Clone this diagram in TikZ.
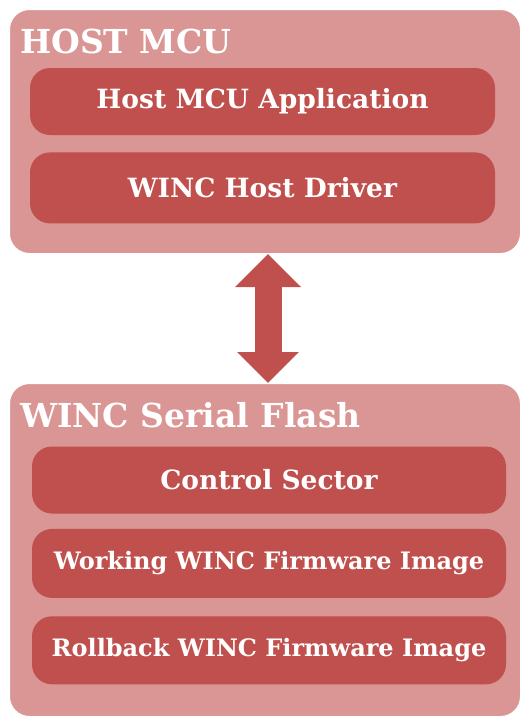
\documentclass[tikz,border=0pt]{standalone}
\usepackage{fontspec}
\setmainfont{DejaVu Serif}
\usetikzlibrary{positioning,arrows.meta}
\definecolor{redlight}{HTML}{D99694}
\definecolor{reddark}{HTML}{C0504D}
\begin{document}
\begin{tikzpicture}[x=1pt,y=-1pt,node distance=17pt,
        outer box/.style={rectangle,rounded corners=20pt,fill=redlight,draw=white,line width=1pt,minimum width=511pt,anchor=north west,inner sep=0pt},
        title/.style={anchor=base west,text=white,font=\bfseries\fontsize{33}{33}\selectfont,inner sep=0pt},
        layer/.style={rectangle,rounded corners=20pt,fill=reddark,text=white,font=\bfseries\fontsize{26.5}{26.5}\selectfont,minimum height=68pt,inner sep=0pt},
        long layer/.style={layer,font=\bfseries\fontsize{24}{24}\selectfont}]

    \node[outer box,minimum height=244pt] (host) at (9,9) {};
    \node[outer box,minimum height=333pt] (flash) at (9,383) {};
    \node[title] (hosttitle) at (20,53) {HOST MCU};
    \node[title] (flashtitle) at (20,427) {WINC Serial Flash};

    \node[layer,minimum width=465pt,minimum height=67pt] (app) at (262.5,101.5) {Host MCU Application};
    \node[layer,minimum width=465pt,minimum height=71pt] (driver) [below=of app] {WINC Host Driver};

    \node[layer,minimum width=474pt,minimum height=67pt] (control) at (269,480) {Control Sector};
    \node[long layer,minimum width=474pt,minimum height=69pt] (working) [below=15pt of control] {Working WINC Firmware Image};
    \node[long layer,minimum width=474pt] (rollback) [below=18pt of working] {Rollback WINC Firmware Image};

    \draw[reddark,line width=27pt,{Triangle[length=33pt,width=64pt]}-{Triangle[length=31pt,width=60pt]}]
    ([xshift=3pt]host.south) -- ([xshift=3pt]flash.north);

    \pgfresetboundingbox
    \useasboundingbox (0,0) rectangle (520,718);
\end{tikzpicture}
\end{document}
